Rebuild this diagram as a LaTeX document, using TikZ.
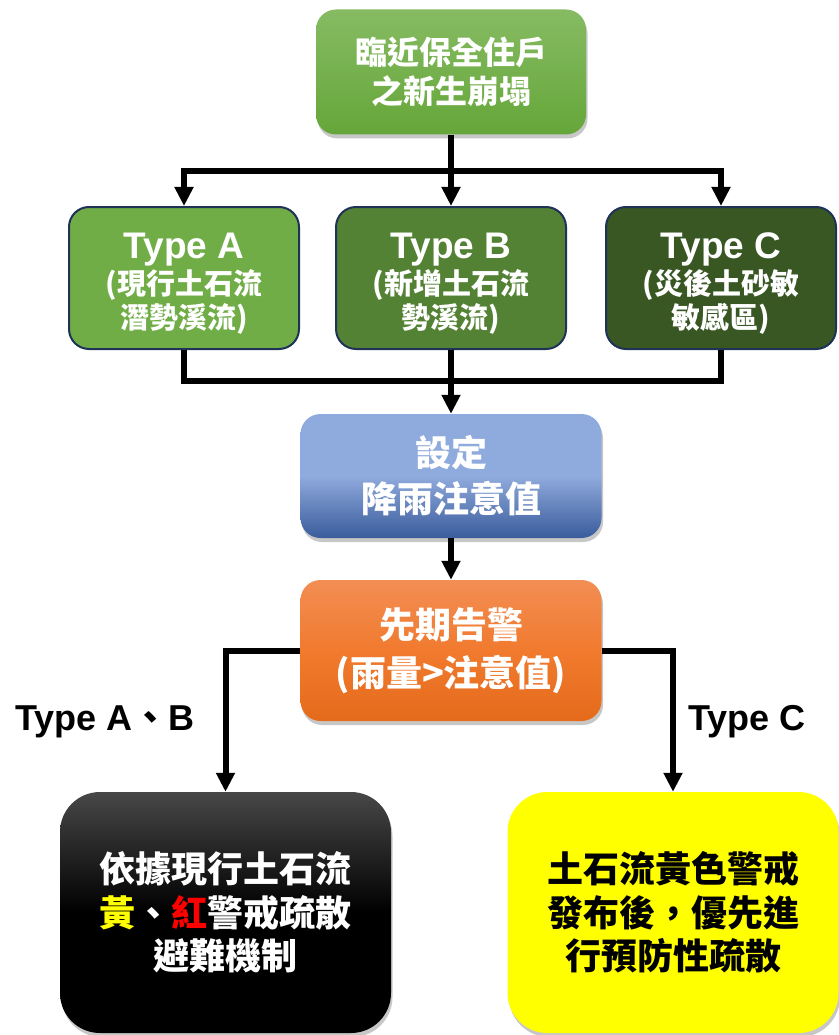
\documentclass[tikz,border=0pt]{standalone}
\usepackage{fontspec}
\setmainfont{Noto Sans CJK TC}
\newfontfamily\latinfont{Liberation Sans}
\usepackage{tikz}
\usetikzlibrary{shapes,positioning,calc,arrows.meta,shadows}

\definecolor{greenTop}{HTML}{86BB63}
\definecolor{greenBot}{HTML}{65A639}
\definecolor{typeAfill}{HTML}{70AD47}
\definecolor{typeBfill}{HTML}{548235}
\definecolor{typeCfill}{HTML}{385723}
\definecolor{typeBorder}{HTML}{1F3356}
\definecolor{blueTop}{HTML}{8FAADC}
\definecolor{blueBot}{HTML}{3A5C9C}
\definecolor{orangeTop}{HTML}{F28E54}
\definecolor{orangeMid}{HTML}{F17A2E}
\definecolor{orangeBot}{HTML}{E56B1B}
\definecolor{alertYellow}{HTML}{FFFF00}
\definecolor{alertRed}{HTML}{FF0000}

\begin{document}
\begin{tikzpicture}[x=1pt, y=-1pt,
        flowbox/.style={rounded corners=20pt, align=center, inner sep=0pt,
            text=white},
        boxshadow/.style={drop shadow={shadow xshift=1.5pt, shadow yshift=-4pt,
            opacity=0.22, fill=black}},
        typebox/.style={flowbox, draw=typeBorder, line width=2pt,
            minimum width=230pt, minimum height=142pt,
            font=\bfseries\fontsize{29}{33.5}\selectfont},
        bigbox/.style={flowbox, rounded corners=40pt, boxshadow,
            minimum width=331pt, minimum height=241pt,
            font=\bfseries\fontsize{36}{43.5}\selectfont},
        flowlabel/.style={font=\bfseries\fontsize{36}{36}\selectfont},
        flow/.style={line width=6pt},
        flowarr/.style={flow, -{Triangle[length=19pt, width=18pt]}}]

        % Frame and the points where the lines split and meet
        \useasboundingbox (0,0) rectangle (838,1035);
        \coordinate (split) at (451,171);
        \coordinate (merge) at (451,381);

        % Top of the chart
        \node (collapse) [flowbox, boxshadow, minimum width=270pt,
            minimum height=125pt, top color=greenTop, bottom color=greenBot,
            font=\bfseries\fontsize{32}{39}\selectfont] at (451,72)
            {臨近保全住戶\\之新生崩塌};

        % The three types
        \node (typeA) [typebox, fill=typeAfill] at (184,278)
            {\rule{0pt}{36pt}{\latinfont\fontsize{37}{37}\selectfont Type A}\\[3pt]
            (現行土石流\\潛勢溪流)};
        \node (typeB) [typebox, fill=typeBfill] at (451,278)
            {\rule{0pt}{36pt}{\latinfont\fontsize{37}{37}\selectfont Type B}\\[3pt]
            (新增土石流\\勢溪流)};
        \node (typeC) [typebox, fill=typeCfill] at (721,278)
            {\rule{0pt}{36pt}{\latinfont\fontsize{37}{37}\selectfont Type C}\\[3pt]
            (災後土砂敏\\敏感區)};

        % Threshold and warning
        \node (setval) [flowbox, boxshadow, minimum width=301pt,
            minimum height=124pt, top color=blueTop, bottom color=blueBot,
            middle color=blueTop,
            font=\bfseries\fontsize{36}{46}\selectfont] at (451,476)
            {設定\\降雨注意值};
        \node (alert) [flowbox, boxshadow, minimum width=301pt,
            minimum height=141pt, top color=orangeTop, bottom color=orangeBot,
            middle color=orangeMid,
            font=\bfseries\fontsize{36}{47.5}\selectfont] at (451,650.5)
            {先期告警\\(雨量>注意值)};

        % Outcomes
        \node (evacAB) [bigbox, top color=black!72, bottom color=black,
            middle color=black] at (225.5,912.5)
            {依據現行土石流\\{\color{alertYellow}黃}、{\color{alertRed}紅}警戒疏散\\避難機制};
        \node (evacC) [bigbox, fill=alertYellow, text=black] at (673,912.5)
            {土石流黃色警戒\\發布後，優先進\\行預防性疏散};

        \node (labelAB) [flowlabel] at (105,722)
            {{\latinfont Type A}、{\latinfont B}};
        \node (labelC) [flowlabel] at (747,722) {\latinfont Type C};

        \begin{scope}[flow]
            \draw (collapse) -- (split);
            \draw (typeA) |- (merge);
            \draw (typeC) |- (merge);
        \end{scope}

        \begin{scope}[flowarr]
            \draw (split) -| (typeA);
            \draw (split) -- (typeB);
            \draw (split) -| (typeC);
            \draw (typeB) -- (setval);
            \draw (setval) -- (alert);
            \draw (alert) -| (evacAB);
            \draw (alert) -| (evacC);
        \end{scope}

\end{tikzpicture}
\end{document}
